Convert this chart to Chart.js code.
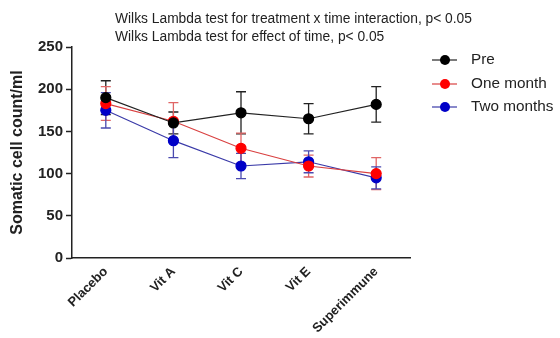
<!DOCTYPE html>
<html>
<head>
<meta charset="utf-8">
<script src="https://cdn.jsdelivr.net/npm/chart.js@4"></script>
<style>
  body { margin: 0; background: #fff; }
</style>
</head>
<body>
<canvas id="myChart" width="560" height="338"></canvas>
<script>
// values
var categories = ["Placebo", "Vit A", "Vit C", "Vit E", "Superimmune"];

var pre = [190, 160, 172, 165, 182];
var preErr = [20, 13, 25, 18, 21];

var oneMonth = [183, 162, 130, 109, 100];
var oneMonthErr = [20, 22, 18, 13, 19];

var twoMonths = [175, 139, 109, 114, 95];
var twoMonthsErr = [21, 20, 15, 13, 13];

var titleLines = [
  "Wilks Lambda test for treatment x time interaction, p< 0.05",
  "Wilks Lambda test for effect of time, p< 0.05"
];

// error bars, drawn through the chart's own scales
var errorBars = {
  id: "errorBars",
  beforeDatasetsDraw: function (chart) {
    var ctx = chart.ctx;
    var yScale = chart.scales.y;
    chart.data.datasets.forEach(function (ds, i) {
      var meta = chart.getDatasetMeta(i);
      ctx.save();
      ctx.strokeStyle = ds.errColor;
      ctx.lineWidth = 1.3;
      meta.data.forEach(function (pt, j) {
        var v = ds.data[j], e = ds.err[j];
        var yTop = yScale.getPixelForValue(v + e);
        var yBot = yScale.getPixelForValue(v - e);
        ctx.beginPath();
        ctx.moveTo(pt.x, yTop); ctx.lineTo(pt.x, yBot);
        ctx.moveTo(pt.x - 5, yTop); ctx.lineTo(pt.x + 5, yTop);
        ctx.moveTo(pt.x - 5, yBot); ctx.lineTo(pt.x + 5, yBot);
        ctx.stroke();
      });
      ctx.restore();
    });
  }
};

// title lines and legend at the right
var extras = {
  id: "extras",
  afterDraw: function (chart) {
    var ctx = chart.ctx;
    ctx.save();
    ctx.fillStyle = "#222";
    ctx.font = "13.8px 'Liberation Sans', Arial, sans-serif";
    ctx.textBaseline = "middle";
    ctx.textAlign = "left";
    ctx.fillText(titleLines[0], 115, 19);
    ctx.fillText(titleLines[1], 115, 37);

    var ly = [60, 84, 107];
    chart.data.datasets.forEach(function (ds, i) {
      ctx.strokeStyle = ds.borderColor;
      ctx.lineWidth = 1.2;
      ctx.beginPath();
      ctx.moveTo(432, ly[i]); ctx.lineTo(457, ly[i]);
      ctx.stroke();
      ctx.fillStyle = ds.pointBackgroundColor;
      ctx.beginPath();
      ctx.arc(445, ly[i], 5, 0, Math.PI * 2);
      ctx.fill();
      ctx.fillStyle = "#222";
      ctx.font = "15.3px 'Liberation Sans', Arial, sans-serif";
      ctx.fillText(ds.label, 471, ly[i]);
    });
    ctx.restore();
  }
};

var canvas = document.getElementById("myChart");
var myChart = new Chart(canvas, {
  type: "line",
  data: {
    labels: categories,
    datasets: [
      {
        label: "Pre",
        data: pre,
        err: preErr,
        borderColor: "#222222",
        errColor: "#222222",
        pointBackgroundColor: "#000000",
        pointBorderColor: "#000000",
        borderWidth: 1.2,
        pointRadius: 5,
        lineTension: 0,
        fill: false
      },
      {
        label: "One month",
        data: oneMonth,
        err: oneMonthErr,
        borderColor: "#d94040",
        errColor: "#e06666",
        pointBackgroundColor: "#ff0000",
        pointBorderColor: "#ff0000",
        borderWidth: 1.2,
        pointRadius: 5,
        lineTension: 0,
        fill: false
      },
      {
        label: "Two months",
        data: twoMonths,
        err: twoMonthsErr,
        borderColor: "#3a3aa8",
        errColor: "#4a4ab0",
        pointBackgroundColor: "#0000c8",
        pointBorderColor: "#0000c8",
        borderWidth: 1.2,
        pointRadius: 5,
        lineTension: 0,
        fill: false
      }
    ]
  },
  options: {
    responsive: false,
    animation: false,
    layout: { padding: { left: 0, top: 47, right: 150, bottom: 0 } },
    plugins: {
      legend: { display: false },
      tooltip: { enabled: false }
    },
    scales: {
      x: {
        offset: true,
        grid: { display: false, drawOnChartArea: false, drawTicks: true, tickLength: 6, tickColor: "#222", tickWidth: 1.5 },
        border: { color: "#222", width: 1.5 },
        ticks: {
          color: "#222",
          font: { family: "'Liberation Sans', Arial, sans-serif", size: 13, weight: "bold" },
          minRotation: 45,
          maxRotation: 45,
          padding: 0
        },
        afterFit: function (scale) { scale.height = 80; }
      },
      y: {
        min: 0,
        max: 250,
        ticks: {
          stepSize: 50,
          color: "#222",
          padding: 3,
          font: { family: "'Liberation Sans', Arial, sans-serif", size: 15, weight: "bold" }
        },
        grid: { drawOnChartArea: false, drawTicks: true, tickLength: 6, tickColor: "#222", tickWidth: 1.5 },
        border: { color: "#222", width: 1.5 },
        title: {
          display: true,
          text: "Somatic cell count/ml",
          color: "#222",
          font: { family: "'Liberation Sans', Arial, sans-serif", size: 16, weight: "bold" },
          padding: { top: 8, bottom: 0 }
        },
        afterFit: function (scale) { scale.width = 72; }
      }
    }
  },
  plugins: [errorBars, extras]
});
</script>
</body>
</html>
